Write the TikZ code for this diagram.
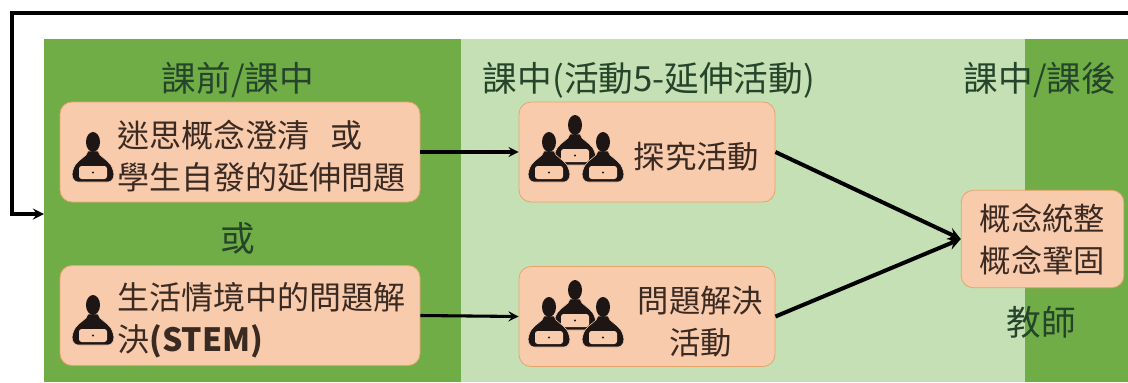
\documentclass[tikz,border=0pt]{standalone}
\usepackage{fontspec}
\setmainfont{Noto Sans CJK TC}
\usetikzlibrary{arrows,positioning}
\definecolor{zonedark}{HTML}{70AD47}
\definecolor{zonelight}{HTML}{C5E0B4}
\definecolor{cardfill}{HTML}{F8CBAD}
\definecolor{cardedge}{HTML}{E8A468}
\definecolor{cardink}{HTML}{3A2A22}
\definecolor{headink}{HTML}{24452A}
\definecolor{iconink}{HTML}{1E1614}
\newcommand{\ind}[1]{\hspace*{#1}}
\tikzset{
  every node/.style={font=\fontsize{23.5}{31.5}\selectfont},
  card/.style={draw=cardedge,semithick,fill=cardfill,text=cardink,rounded corners=9pt,
    inner xsep=0pt,inner ysep=0pt,minimum height=75pt},
  lowered/.style={text height=27pt},
  wide/.style={font=\fontsize{24}{31.5}\selectfont},
  heading/.style={text=headink,font=\fontsize{26}{31.5}\selectfont},
  person/.pic={
    \fill[iconink,draw=cardfill,thin] (-5,9) -- (-7,13)
      .. controls (-11,17) and (-18,20) .. (-20,28)
      .. controls (-22,33) and (-21,40) .. (-14,40) -- (14,40)
      .. controls (21,40) and (22,33) .. (20,28)
      .. controls (18,20) and (11,17) .. (7,13) -- (5,9) -- cycle;
    \fill[iconink] (0,0) ellipse [x radius=7,y radius=10];
    \fill[cardfill,rounded corners=2pt] (-14,24) rectangle (14,37);
    \fill[iconink] (0,30.5) circle [radius=1.2];
  },
  team/.pic={
    \pic at (0,-17) {person};
    \pic at (-26,0) {person};
    \pic at (28,0) {person};
  }
}
\tikzstyle{arrow} = [line width=2.3pt,->,>=stealth]
\begin{document}
\begin{tikzpicture}[x=0.75pt,y=-0.75pt]
  \useasboundingbox (0,0) rectangle (1128,382);
  % zones
  \fill[zonedark] (44,39) rectangle (461,382);
  \fill[zonelight] (461,39) rectangle (1025,382);
  \fill[zonedark] (1025,39) rectangle (1128,382);
  % headings
  \node[heading] (headPre) at (238,80) {課前/課中};
  \node[heading] (headMid) at (649,80) {課中(活動5-延伸活動)};
  \node[heading] (headPost) at (1040,80) {課中/課後};
  \node[heading] (orLabel) at (238,238) {或};
  \node[heading] (teacher) at (1041,322) {教師};
  % cards
  \node[card,lowered,wide,text width=270pt,align=left] (concept) at (240,152)
    {\ind{43pt}迷思概念澄清\ \ 或\\\ind{43pt}學生自發的延伸問題};
  \node[card,lowered,wide,text width=270pt,align=left] (life) at (240,315.5)
    {\ind{43pt}生活情境中的問題解\\\ind{43pt}決\textbf{(STEM)}};
  \node[card,lowered,text width=192pt,align=left] (inquiry) at (647,152)
    {\ind{86pt}探究活動};
  \node[card,lowered,text width=192pt,align=center] (solve) at (647,316.5)
    {\ind{80pt}問題解決\\\ind{80pt}活動};
  \node[card,text width=122pt,align=center,minimum height=73pt] (summary) at (1042.5,239)
    {概念統整\\概念鞏固};
  % icons
  \pic at (93,142) {person};
  \pic at (93,305) {person};
  \pic at (575,142) {team};
  \pic at (575,307) {team};
  % connectors
  \coordinate (loopStart) at (1128,13);
  \coordinate (loopIn) at (44,214);
  \draw[arrow,line width=2.6pt] (loopStart) -- (12,13) |- (loopIn);
  \draw[arrow] (concept.east) -- (inquiry.west);
  \draw[arrow] (life.east) -- (solve.west);
  \draw[arrow,line width=3pt] (inquiry.east) -- (summary.west);
  \draw[arrow,line width=3pt] (solve.east) -- (summary.west);
\end{tikzpicture}
\end{document}
